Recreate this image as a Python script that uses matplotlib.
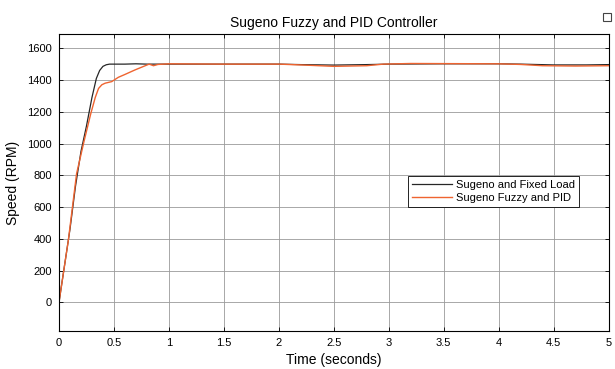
import numpy as np
import matplotlib.pyplot as plt
from matplotlib.patches import Rectangle

plt.rcParams['font.family'] = ['Liberation Sans', 'DejaVu Sans']

# Sugeno with fixed load (black)
t_fixed = [0, 0.05, 0.1, 0.15, 0.2, 0.25, 0.3, 0.34, 0.37, 0.4, 0.43, 0.46, 0.5, 0.6, 0.7, 0.8,
           1.0, 1.5, 2.0, 2.2, 2.5, 2.8, 3.0, 3.5, 4.0, 4.2, 4.5, 4.8, 5.0]
speed_fixed = [0, 230, 460, 730, 950, 1110, 1290, 1410, 1460, 1486, 1496, 1500, 1500, 1500, 1502, 1500,
               1500, 1500, 1500, 1497, 1494, 1497, 1500, 1502, 1502, 1500, 1495, 1495, 1497]

# Sugeno fuzzy + PID (orange)
t_pid = [0, 0.05, 0.085, 0.16, 0.23, 0.29, 0.33, 0.36, 0.39, 0.42, 0.45, 0.48, 0.54, 0.6, 0.69,
         0.76, 0.82, 0.86, 0.9, 1.0, 1.5, 2.0, 2.2, 2.5, 2.8, 2.95, 3.2, 4.0, 4.2, 4.4, 4.7, 5.0]
speed_pid = [0, 230, 390, 810, 1020, 1190, 1290, 1347, 1370, 1380, 1385, 1390, 1417, 1435, 1463,
             1483, 1500, 1490, 1498, 1502, 1500, 1500, 1495, 1486, 1490, 1500, 1504, 1502, 1498,
             1490, 1488, 1490]

x_ticks = [0, 0.5, 1, 1.5, 2, 2.5, 3, 3.5, 4, 4.5, 5]
x_tick_labels = ['0', '0.5', '1', '1.5', '2', '2.5', '3', '3.5', '4', '4.5', '5']
y_ticks = [0, 200, 400, 600, 800, 1000, 1200, 1400, 1600]

fig = plt.figure(figsize=(6.15, 3.69), dpi=100)
ax = fig.add_axes([0.0959, 0.103, 0.8936, 0.805])

ax.plot(t_fixed, speed_fixed, color='#262626', lw=0.9, label='Sugeno and Fixed Load')
ax.plot(t_pid, speed_pid, color='#ef6430', lw=1.0, label='Sugeno Fuzzy and PID')

ax.set_xlim(0, 5)
ax.set_ylim(-180, 1690)
ax.set_xticks(x_ticks)
ax.set_xticklabels(x_tick_labels)
ax.set_yticks(y_ticks)
ax.tick_params(direction='in', top=True, right=True, labelsize=8, length=3, width=0.6, pad=5)
ax.grid(True, color='#9a9a9a', lw=0.6)
for s in ax.spines.values():
    s.set_linewidth(0.8)

ax.set_title('Sugeno Fuzzy and PID Controller', fontsize=10, pad=5)
ax.set_xlabel('Time (seconds)', fontsize=10, labelpad=4)
ax.set_ylabel('Speed (RPM)', fontsize=10, labelpad=5)

leg = ax.legend(loc='upper left', bbox_to_anchor=(0.635, 0.522), fontsize=8, frameon=True,
                fancybox=False, framealpha=1, edgecolor='black', borderpad=0.35,
                handlelength=3.6, handletextpad=0.4, labelspacing=0.3, borderaxespad=0)
leg.get_frame().set_linewidth(0.6)

# small window icon at the top right corner
fig.patches.append(Rectangle((0.981, 0.943), 0.013, 0.022, transform=fig.transFigure,
                             fill=False, edgecolor='#444444', lw=0.8))

plt.savefig('out.png', dpi=100)
